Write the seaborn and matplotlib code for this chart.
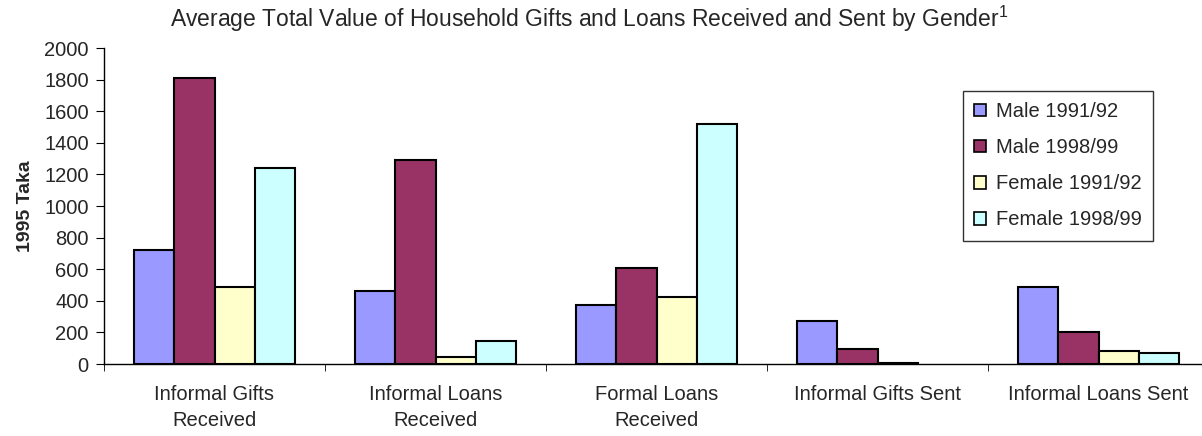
import pandas as pd
import matplotlib
matplotlib.use("Agg")
import matplotlib.pyplot as plt
import seaborn as sns

# data
categories = ["Informal Gifts\nReceived", "Informal Loans\nReceived", "Formal Loans\nReceived",
              "Informal Gifts Sent", "Informal Loans Sent"]
series = ["Male 1991/92", "Male 1998/99", "Female 1991/92", "Female 1998/99"]
male_9192 = [720, 465, 375, 275, 490]
male_9899 = [1810, 1290, 605, 95, 200]
female_9192 = [490, 46, 427, 6, 85]
female_9899 = [1240, 148, 1517, 0, 72]

colors = ["#9999FF", "#993366", "#FFFFCC", "#CCFFFF"]

rows = []
for s, vals in zip(series, [male_9192, male_9899, female_9192, female_9899]):
    for c, v in zip(categories, vals):
        rows.append({"category": c, "series": s, "value": v})
df = pd.DataFrame(rows)

sns.set_style("white")
plt.rcParams["font.family"] = ["Liberation Sans", "DejaVu Sans"]
plt.rcParams["mathtext.default"] = "regular"

fig = plt.figure(figsize=(12.02, 4.36), dpi=100)
ax = fig.add_axes([104 / 1202, 72 / 436, 1105 / 1202, 316 / 436])

sns.barplot(x="category", y="value", hue="series", data=df, palette=colors,
            hue_order=series, order=categories, width=0.724, gap=0,
            edgecolor="black", linewidth=1.5, saturation=1, ax=ax)
# empty bars get no outline
for p in ax.patches:
    if p.get_height() == 0:
        p.set_linewidth(0)

ax.set_xlim(-0.5, 4.5)
ax.set_ylim(0, 2000)
ax.set_yticks(range(0, 2001, 200))
ax.tick_params(axis="y", labelsize=14.5, length=6, direction="out", left=True, color="black", pad=5)
ax.tick_params(axis="x", which="major", length=0, labelsize=14.5, pad=15)
for lab in ax.get_xticklabels():
    lab.set_linespacing(1.45)
ax.set_xticks([i - 0.5 for i in range(6)], minor=True)
ax.tick_params(axis="x", which="minor", length=5, direction="out", bottom=True, color="black")
for sp in ["top", "right"]:
    ax.spines[sp].set_visible(False)
for sp in ["left", "bottom"]:
    ax.spines[sp].set_color("black")
    ax.spines[sp].set_linewidth(1)

ax.set_xlabel("")
ax.set_ylabel("1995 Taka", fontsize=14, fontweight="bold")
ax.yaxis.set_label_coords(-70 / 1105, 0.5)
fig.text(589 / 1202, 1 - 19 / 436, "Average Total Value of Household Gifts and Loans Received and Sent by Gender$^{1}$",
         ha="center", va="center", fontsize=16.5)

leg = ax.legend(loc="upper left", bbox_to_anchor=(963 / 1202, 1 - 91 / 436), bbox_transform=fig.transFigure,
                fontsize=14.5, frameon=True, fancybox=False, edgecolor="black", handlelength=0.6,
                handleheight=0.6, handletextpad=0.5, labelspacing=0.85, borderpad=0.55, borderaxespad=0)
leg.get_frame().set_linewidth(1)
for h in leg.legend_handles:
    h.set_edgecolor("black")
    h.set_linewidth(1.2)

fig.savefig("out.png", dpi=100)
